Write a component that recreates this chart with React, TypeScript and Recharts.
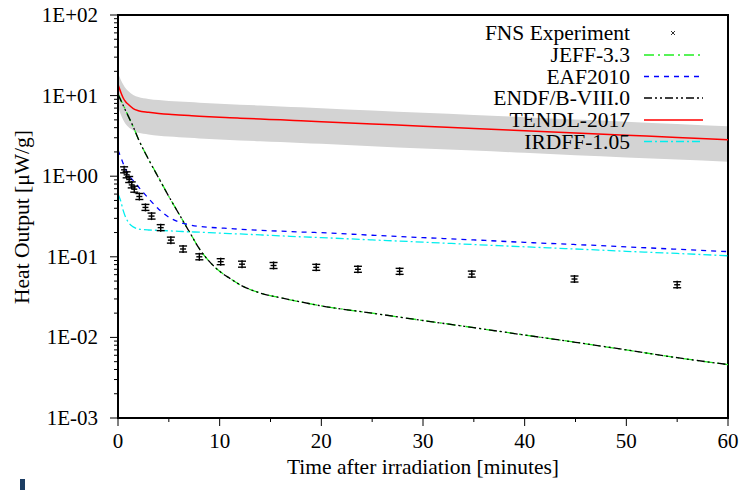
import { ComposedChart, Line, Area, Scatter, XAxis, YAxis, ReferenceArea, Legend } from "recharts";

const FONT = '"Liberation Serif", "Times New Roman", serif';

// time grid (minutes) for the calculated curves
const times = [0, 0.25, 0.5, 0.75, 1, 1.5, 2, 3, 4, 5, 6, 7, 8, 9, 10, 11, 12, 14, 16, 18, 20, 25, 30, 35, 40, 45, 50, 55, 60];

const jeff = [10.5, 9.0, 7.7, 6.6, 5.6, 4.1, 2.9, 1.63, 0.96, 0.56, 0.34, 0.207, 0.126, 0.087, 0.066, 0.054, 0.045, 0.0355, 0.031, 0.0275, 0.0246, 0.02, 0.0162, 0.0132, 0.0107, 0.0087, 0.007, 0.0056, 0.0046];
const endf = [10.3, 8.9, 7.6, 6.5, 5.6, 4.1, 2.9, 1.62, 0.95, 0.56, 0.34, 0.206, 0.126, 0.087, 0.066, 0.054, 0.045, 0.0355, 0.031, 0.0275, 0.0246, 0.02, 0.0162, 0.0132, 0.0107, 0.0087, 0.007, 0.0056, 0.0046];
const eaf = [2.1, 1.75, 1.45, 1.22, 1.05, 0.88, 0.74, 0.53, 0.39, 0.31, 0.27, 0.25, 0.238, 0.232, 0.228, 0.224, 0.22, 0.213, 0.208, 0.203, 0.199, 0.185, 0.173, 0.162, 0.151, 0.142, 0.133, 0.124, 0.116];
const irdff = [0.6, 0.5, 0.38, 0.31, 0.27, 0.235, 0.222, 0.215, 0.213, 0.21, 0.207, 0.204, 0.202, 0.199, 0.197, 0.194, 0.192, 0.187, 0.182, 0.177, 0.173, 0.162, 0.152, 0.142, 0.133, 0.125, 0.117, 0.11, 0.103];
const tendl = [13.7, 11.2, 9.4, 8.4, 7.8, 6.9, 6.5, 6.2, 6.0, 5.85, 5.75, 5.65, 5.55, 5.47, 5.4, 5.32, 5.25, 5.12, 5.0, 4.87, 4.75, 4.45, 4.17, 3.92, 3.67, 3.44, 3.23, 3.03, 2.84];
const tendlHigh = [19, 16, 13.8, 12.3, 11.4, 10.2, 9.6, 9.1, 8.8, 8.6, 8.45, 8.3, 8.15, 8.05, 7.95, 7.82, 7.72, 7.53, 7.35, 7.16, 6.98, 6.54, 6.13, 5.76, 5.4, 5.06, 4.75, 4.45, 4.17];
const tendlLow = [7.3, 5.9, 5.0, 4.45, 4.1, 3.7, 3.45, 3.3, 3.18, 3.1, 3.05, 3.0, 2.94, 2.9, 2.86, 2.82, 2.78, 2.71, 2.65, 2.58, 2.52, 2.36, 2.21, 2.08, 1.95, 1.82, 1.71, 1.61, 1.51];

// FNS measurement
const expTimes = [0.6, 0.85, 1.1, 1.35, 1.6, 2.1, 2.7, 3.3, 4.2, 5.2, 6.4, 8.0, 10.1, 12.2, 15.3, 19.5, 23.6, 27.7, 34.8, 44.9, 55.0];
const expValues = [1.2, 1.04, 0.91, 0.78, 0.69, 0.56, 0.41, 0.32, 0.23, 0.161, 0.125, 0.1, 0.087, 0.081, 0.078, 0.074, 0.07, 0.066, 0.061, 0.053, 0.045];

const xTicks = [0, 5, 10, 15, 20, 25, 30, 35, 40, 45, 50, 55, 60];
const yDecades = [0.001, 0.01, 0.1, 1, 10, 100];
const yMinor = [2, 3, 4, 5, 6, 7, 8, 9];

const series = [
  { key: "jeff", name: "JEFF-3.3", color: "#22ee22", dash: "10 4 2 4" },
  { key: "eaf", name: "EAF2010", color: "#0000ff", dash: "5 5" },
  { key: "endf", name: "ENDF/B-VIII.0", color: "#000000", dash: "8 3 2 3 2 3" },
  { key: "tendl", name: "TENDL-2017", color: "#ff0000", dash: undefined },
  { key: "irdff", name: "IRDFF-1.05", color: "#00eeee", dash: "8 3 2 3" },
];

const chartData = times.map((t, i) => ({
  t,
  jeff: jeff[i],
  endf: endf[i],
  eaf: eaf[i],
  irdff: irdff[i],
  tendl: tendl[i],
  band: [tendlLow[i], tendlHigh[i]],
}));

const expData = expTimes.map((t, i) => ({ t, fns: expValues[i] }));

const yTicks: number[] = [];
yDecades.forEach((d, i) => {
  yTicks.push(d);
  if (i < yDecades.length - 1) yMinor.forEach((m) => yTicks.push(d * m));
});

const fmtE = (v: number) => {
  const e = Math.round(Math.log10(v));
  return `1E${e < 0 ? "-" : "+"}${String(Math.abs(e)).padStart(2, "0")}`;
};

const YTick = (props: any) => {
  const { x, y, payload } = props;
  const lg = Math.log10(payload.value);
  const major = Math.abs(lg - Math.round(lg)) < 1e-6;
  return (
    <g>
      <line x1={x - (major ? 8 : 4)} x2={x} y1={y} y2={y} stroke="#000" strokeWidth={1} />
      {major && (
        <text x={x - 20} y={y + 7} textAnchor="end" fontFamily={FONT} fontSize={21} fill="#000">
          {fmtE(payload.value)}
        </text>
      )}
    </g>
  );
};

const XTick = (props: any) => {
  const { x, y, payload } = props;
  const major = payload.value % 10 === 0;
  return (
    <g>
      <line x1={x} x2={x} y1={y} y2={y + (major ? 8 : 4)} stroke="#000" strokeWidth={1} />
      {major && (
        <text x={x} y={y + 30} textAnchor="middle" fontFamily={FONT} fontSize={21} fill="#000">
          {payload.value}
        </text>
      )}
    </g>
  );
};

const ExpMark = (props: any) => {
  const { cx, cy } = props;
  if (cx == null || cy == null) return null;
  return (
    <g stroke="#000" strokeWidth={1.4}>
      <line x1={cx} x2={cx} y1={cy - 4} y2={cy + 4} />
      <line x1={cx - 4} x2={cx + 4} y1={cy - 3} y2={cy - 3} />
      <line x1={cx - 4} x2={cx + 4} y1={cy + 3} y2={cy + 3} />
      <line x1={cx - 3} x2={cx + 3} y1={cy} y2={cy} />
    </g>
  );
};

const LegendBox = () => {
  const rowY = [33, 55, 76.5, 98, 120, 141.5];
  return (
    <svg width={744} height={170} style={{ position: "absolute", left: 0, top: 0 }}>
      <text x={630} y={rowY[0] + 7} textAnchor="end" fontFamily={FONT} fontSize={21.5} fill="#000">
        FNS Experiment
      </text>
      <g stroke="#000" strokeWidth={0.8}>
        <line x1={671} x2={675} y1={rowY[0] - 2} y2={rowY[0] + 2} />
        <line x1={671} x2={675} y1={rowY[0] + 2} y2={rowY[0] - 2} />
      </g>
      {series.map((s, i) => (
        <g key={s.key}>
          <text x={630} y={rowY[i + 1] + 7} textAnchor="end" fontFamily={FONT} fontSize={21.5} fill="#000">
            {s.name}
          </text>
          <line x1={644} x2={703} y1={rowY[i + 1]} y2={rowY[i + 1]} stroke={s.color} strokeWidth={1.4} strokeDasharray={s.dash} />
        </g>
      ))}
    </svg>
  );
};

export default function App() {
  return (
    <div style={{ position: "absolute", left: 0, top: 0, width: 744, height: 490, background: "#fff" }}>
      <ComposedChart width={744} height={490} data={chartData} margin={{ top: 15, right: 16, bottom: 0, left: 0 }}>
        <XAxis
          dataKey="t"
          type="number"
          domain={[0, 60]}
          ticks={xTicks}
          interval={0}
          height={72}
          tickSize={0}
          tickMargin={0}
          tickLine={false}
          tick={<XTick />}
          axisLine={{ stroke: "#000", strokeWidth: 2 }}
          allowDataOverflow
          label={{
            content: () => (
              <text x={423} y={474} textAnchor="middle" fontFamily={FONT} fontSize={21.5} fill="#000">
                Time after irradiation [minutes]
              </text>
            ),
          }}
        />
        <YAxis
          type="number"
          scale="log"
          domain={[0.001, 100]}
          ticks={yTicks}
          interval={0}
          width={118}
          tickSize={0}
          tickMargin={0}
          tickLine={false}
          tick={<YTick />}
          axisLine={{ stroke: "#000", strokeWidth: 2 }}
          allowDataOverflow
          label={{
            content: () => (
              <text
                x={22}
                y={217}
                transform="rotate(-90 22 217)"
                textAnchor="middle"
                dominantBaseline="central"
                fontFamily={FONT}
                fontSize={21.5}
                fill="#000"
              >
                Heat Output [μW/g]
              </text>
            ),
          }}
        />
        <Area dataKey="band" type="monotone" stroke="none" fill="#d3d3d3" fillOpacity={1} isAnimationActive={false} />
        <Scatter data={expData} dataKey="fns" shape={<ExpMark />} isAnimationActive={false} />
        {series.map((s) => (
          <Line
            key={s.key}
            dataKey={s.key}
            type="monotone"
            stroke={s.color}
            strokeWidth={s.key === "tendl" ? 1.5 : 1.3}
            strokeDasharray={s.dash}
            dot={false}
            isAnimationActive={false}
          />
        ))}
        <ReferenceArea x1={0} x2={60} y1={0.001} y2={100} fill="none" stroke="#000" strokeWidth={2} />
        <Legend
          layout="horizontal"
          verticalAlign="middle"
          align="center"
          wrapperStyle={{ position: "absolute", left: 0, top: 0, width: 744, height: 170, pointerEvents: "none" }}
          content={() => <LegendBox />}
        />
      </ComposedChart>
      <div style={{ position: "absolute", left: 20, top: 479, width: 5, height: 11, background: "#1c3d63" }} />
    </div>
  );
}
